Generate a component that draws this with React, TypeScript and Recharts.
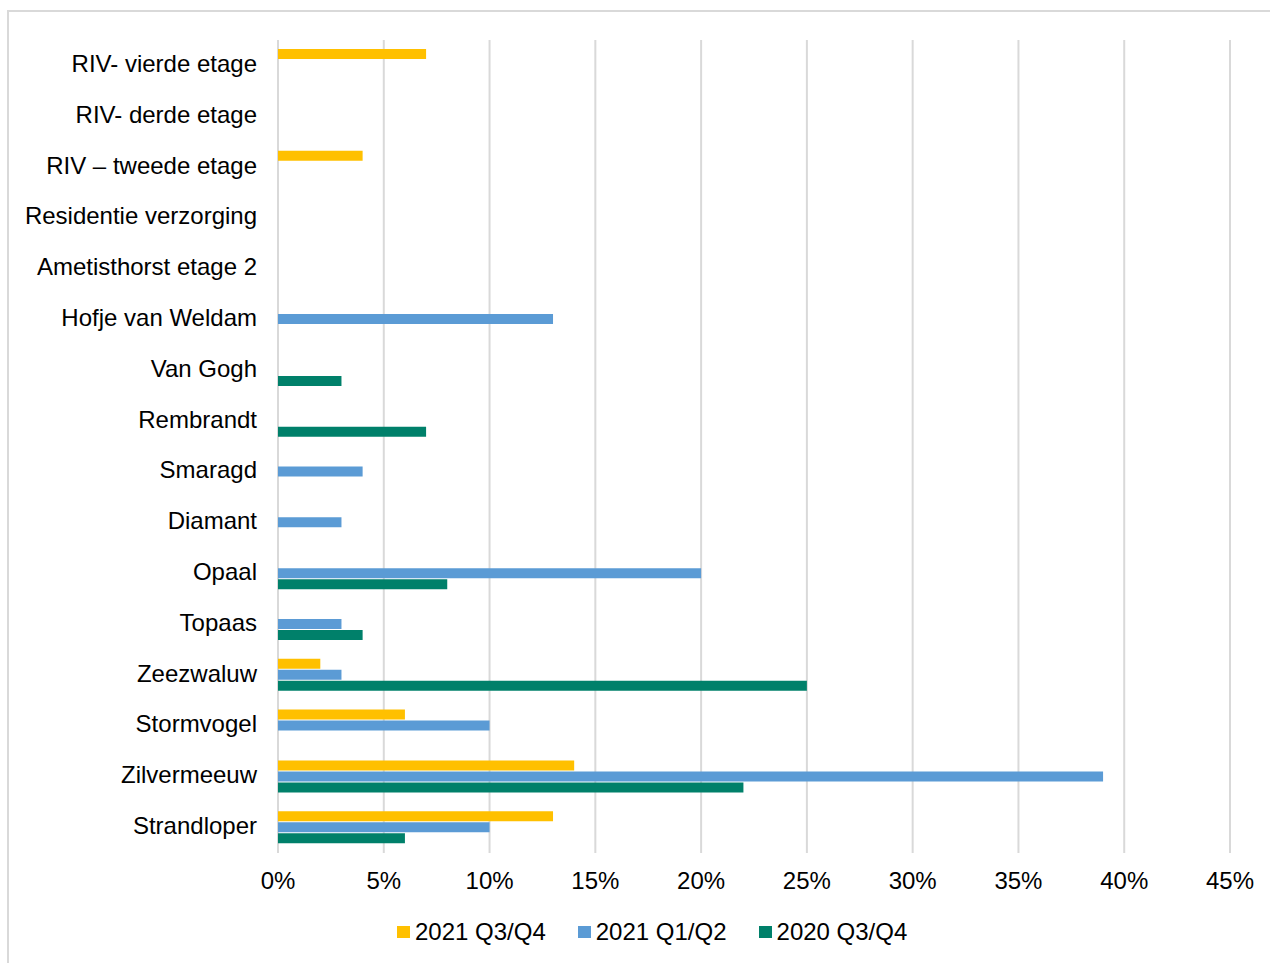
import { Bar, BarChart, CartesianGrid, Legend, XAxis, YAxis } from "recharts";

const categories = [
  "RIV- vierde etage",
  "RIV- derde etage",
  "RIV – tweede etage",
  "Residentie verzorging",
  "Ametisthorst etage 2",
  "Hofje van Weldam",
  "Van Gogh",
  "Rembrandt",
  "Smaragd",
  "Diamant",
  "Opaal",
  "Topaas",
  "Zeezwaluw",
  "Stormvogel",
  "Zilvermeeuw",
  "Strandloper",
];

const seriesNames = ["2021 Q3/Q4", "2021 Q1/Q2", "2020 Q3/Q4"];
const seriesColors = ["#FFC000", "#5B9BD5", "#00806A"];

const q3q4_2021 = [7, null, 4, null, null, null, null, null, null, null, null, null, 2, 6, 14, 13];
const q1q2_2021 = [null, null, null, null, null, 13, null, null, 4, 3, 20, 3, 3, 10, 39, 10];
const q3q4_2020 = [null, null, null, null, null, null, 3, 7, null, null, 8, 4, 25, null, 22, 6];

const xTicks = [0, 5, 10, 15, 20, 25, 30, 35, 40, 45];

const FONT = "'Liberation Sans', Arial, sans-serif";

const data = categories.map((name, i) => ({
  name,
  a: q3q4_2021[i],
  b: q1q2_2021[i],
  c: q3q4_2020[i],
}));

// legend in the workbook order, not the reversed order recharts hands us
function LegendContent() {
  return (
    <div style={{ display: "flex", alignItems: "center", fontFamily: FONT, fontSize: 24, color: "#000" }}>
      {seriesNames.map((n, i) => (
        <div key={n} style={{ display: "flex", alignItems: "center", marginLeft: i === 0 ? 0 : 32 }}>
          <span style={{ display: "inline-block", width: 13, height: 12, background: seriesColors[i], marginRight: 5 }} />
          <span>{n}</span>
        </div>
      ))}
    </div>
  );
}

export default function App() {
  return (
    <div style={{ position: "absolute", left: 0, top: 0, width: 1270, height: 963, overflow: "hidden", background: "#fff" }}>
      <div
        style={{
          position: "absolute",
          left: 7,
          top: 10,
          width: 1300,
          height: 1000,
          border: "2px solid #d9d9d9",
        }}
      />
      <div style={{ position: "absolute", left: 0, top: 0 }}>
        <BarChart
          width={1270}
          height={963}
          data={data}
          layout="vertical"
          margin={{ top: 40, right: 40, bottom: 70, left: 8 }}
          barSize={10}
          barGap={1}
        >
          <CartesianGrid horizontal={false} stroke="#d9d9d9" strokeWidth={2} />
          <XAxis
            type="number"
            domain={[0, 45]}
            ticks={xTicks}
            interval={0}
            tickFormatter={(v) => `${v}%`}
            axisLine={false}
            tickLine={false}
            tickSize={0}
            tickMargin={19}
            height={40}
            tick={{ fill: "#000", fontSize: 24, fontFamily: FONT }}
          />
          <YAxis
            type="category"
            dataKey="name"
            width={270}
            axisLine={false}
            tickLine={false}
            tickSize={0}
            tickMargin={21}
            interval={0}
            tick={{ fill: "#000", fontSize: 24, fontFamily: FONT, dy: -2 }}
          />
          <Legend
            verticalAlign="middle"
            align="center"
            layout="horizontal"
            content={<LegendContent />}
            wrapperStyle={{ top: 918, left: 397, width: 560 }}
          />
          <Bar dataKey="a" name={seriesNames[0]} fill={seriesColors[0]} isAnimationActive={false} />
          <Bar dataKey="b" name={seriesNames[1]} fill={seriesColors[1]} isAnimationActive={false} />
          <Bar dataKey="c" name={seriesNames[2]} fill={seriesColors[2]} isAnimationActive={false} />
        </BarChart>
      </div>
    </div>
  );
}
